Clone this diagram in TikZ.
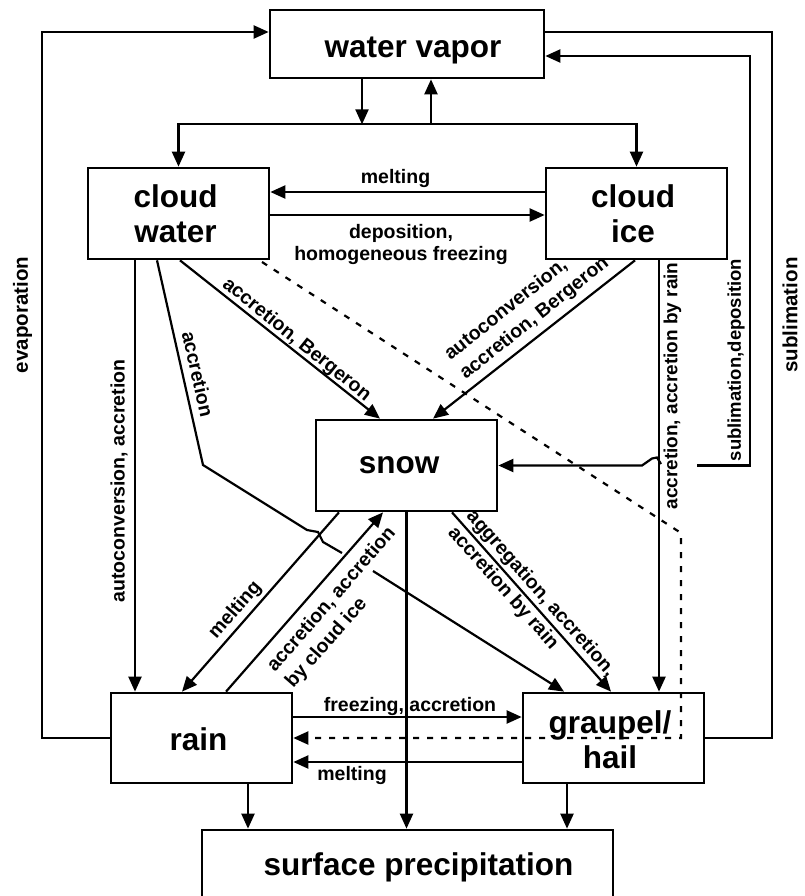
\documentclass[tikz,border=0pt]{standalone}
\usepackage{fontspec}
\setmainfont{Liberation Sans}
\usetikzlibrary{arrows.meta,calc}
\begin{document}
\begin{tikzpicture}[x=1pt,y=-1pt,
  box/.style={draw, line width=2.7pt, inner sep=0pt, minimum width=181pt, minimum height=91pt},
  btxt/.style={font=\bfseries\fontsize{31.5}{35}\selectfont, inner sep=0pt, align=center},
  lbl/.style={font=\bfseries\fontsize{19.5}{21.5}\selectfont, inner sep=0pt},
  lbltwo/.style={font=\bfseries\fontsize{19.5}{24.5}\selectfont, inner sep=0pt, align=left},
  side/.style={font=\bfseries\fontsize{20.5}{22}\selectfont, inner sep=0pt},
  conn/.style={line width=2.2pt},
  arr/.style={conn, -{Triangle[length=15pt,width=13pt]}},
  dashline/.style={conn, dash pattern=on 6pt off 8pt},
]
\useasboundingbox (0,0) rectangle (805,896);
\clip (0,0) rectangle (805,896);

% boxes
\node[box, minimum width=274pt, minimum height=68pt] (vapor) at (407,44) {};
\node[box] (cwater) at (178.5,213.5) {};
\node[box] (cice) at (636.5,213.5) {};
\node[box] (snow) at (406.5,465.5) {};
\node[box, minimum height=90pt] (rain) at (201.5,738) {};
\node[box, minimum height=90pt] (graupel) at (613.5,738) {};
\node[box, minimum width=411pt, minimum height=80pt] (surface) at (407.5,870) {};

% box texts
\node[btxt, anchor=base] (vaporT) at (413,58) {water vapor};
\node[btxt] (cwaterT) at (175.5,214.2) {cloud\\water};
\node[btxt] (ciceT) at (633,214.2) {cloud\\ice};
\node[btxt, anchor=base] (snowT) at (399,473) {snow};
\node[btxt, anchor=base] (rainT) at (198.5,750) {rain};
\node[btxt] (graupelT) at (610,739.7) {graupel/\\hail};
\node[btxt, anchor=base] (surfaceT) at (418.5,875) {surface precipitation};

% evaporation
\coordinate (evtop) at (42,32);
\draw[arr] (rain.west) -| (evtop) -- (evtop -| vapor.west);
\node[side, rotate=90] (levap) at (22.5,315) {evaporation};

% sublimation
\coordinate (subtop) at (772,32);
\draw[conn] (graupel.east) -| (subtop) -- (subtop -| vapor.east);
\node[side, rotate=90] (lsubl) at (790,315) {sublimation};

% sublimation,deposition
\coordinate (sdtop) at (750,56);
\coordinate (sdcorner) at (750,465.5);
\coordinate (sdgap) at (697,465.5);
\coordinate (sdhop) at (661,464);
\draw[arr] (sdgap) -- (sdcorner) -- (sdtop) -- (sdtop -| vapor.east);
\draw[arr] (sdhop) -- (657,457.5) -- (652,458.5) -- (642,465.5) -- (snow.east);
\node[lbl, font=\bfseries\fontsize{18.5}{20}\selectfont, rotate=90] (lsubdep) at (736,360) {sublimation,deposition};

% vapor <-> cloud water / cloud ice
\coordinate (bus) at ($(vapor.south)+(0,45)$);
\draw[arr] (bus) -| (cwater.north);
\draw[arr] (bus) -| (cice.north);
\draw[arr] ($(vapor.south)+(-45,0)$) -- ($(vapor.south)+(-45,45)$);
\draw[arr] ($(vapor.south)+(24,45)$) -- ($(vapor.south)+(24,0)$);

% cloud water <-> cloud ice
\draw[arr] ($(cice.west)+(0,-21.5)$) -- ($(cwater.east)+(0,-21.5)$);
\draw[arr] ($(cwater.east)+(0,1.5)$) -- ($(cice.west)+(0,1.5)$);
\node[lbl, anchor=base] (lmelt1) at (395.5,183) {melting};
\node[lbl, align=center] (ldepo) at (401,244.7) {deposition,\\homogeneous freezing};

% cloud water -> rain
\coordinate (ac1) at ($(cwater.south)+(-43.5,0)$);
\draw[arr] (ac1) -- (ac1 |- rain.north);
\node[lbl, rotate=90] (lauto) at (119,481) {autoconversion, accretion};

% cloud water -> graupel (accretion)
\coordinate (a0) at ($(cwater.south)+(-21.5,0)$);
\draw[conn] (a0) -- (203,465) -- (307,530) -- (318,532) -- (323,542) -- (342,553);
\draw[arr] (373,571) -- ($(graupel.north)+(-49.5,0)$);
\node[lbl, rotate=-77.4] (lacc) at (198,374) {accretion};

% cloud water -> snow
\draw[arr] ($(cwater.south)+(1.5,0)$) -- ($(snow.north)+(-26.5,0)$);
\node[lbl, rotate=-38.8] (lberg) at (296.5,340) {accretion, Bergeron};

% cloud ice -> snow
\draw[arr] ($(cice.south)+(-1.5,0)$) -- ($(snow.north)+(26.5,0)$);
\node[lbltwo, rotate=38.6] (lice) at (527,309) {autoconversion,\\accretion, Bergeron};

% cloud ice -> graupel
\draw[arr] ($(cice.south)+(22.5,0)$) -- ($(graupel.north)+(45.5,0)$);
\node[lbl, font=\bfseries\fontsize{19}{21}\selectfont, rotate=90] (lrainacc) at (672.5,386) {accretion, accretion by rain};

% snow -> rain (melting)
\draw[arr] ($(snow.south)+(-67.5,0)$) -- ($(rain.north)+(-19.5,0)$);
\node[lbl, rotate=48.9] (lmelt2) at (235.5,610) {melting};

% rain -> snow
\draw[arr] ($(rain.north)+(24.5,0)$) -- ($(snow.south)+(-23.5,0)$);
\node[lbltwo, rotate=48.9] (lacc2) at (341,608) {accretion, accretion\\by cloud ice};

% snow -> graupel
\draw[arr] ($(snow.south)+(45.5,0)$) -- ($(graupel.north)+(-2.5,0)$);
\node[lbltwo, rotate=-48.5] (lagg) at (531.5,602) {aggregation, accretion,\\accretion by rain};

% snow -> surface
\draw[arr] (snow.south) -- (snow.south |- surface.north);

% rain <-> graupel
\draw[arr] ($(rain.east)+(0,-21)$) -- ($(graupel.west)+(0,-21)$);
\node[lbl, anchor=base] (lfreeze) at (410,711) {freezing, accretion};
\draw[arr] ($(graupel.west)+(0,24)$) -- ($(rain.east)+(0,24)$);
\node[lbl, anchor=base] (lmelt3) at (352,780) {melting};

% dashed
\coordinate (d0) at (262,262);
\coordinate (d1) at (681,533);
\draw[dashline, -{Triangle[length=15pt,width=13pt]}] (d0) -- (d1) -- (d1 |- rain.east) -- (rain.east);

% to surface
\draw[arr] ($(rain.south)+(46.5,0)$) -- ($(surface.north)+(-159.5,0)$);
\draw[arr] ($(graupel.south)+(-46.5,0)$) -- ($(surface.north)+(159.5,0)$);
\end{tikzpicture}
\end{document}
